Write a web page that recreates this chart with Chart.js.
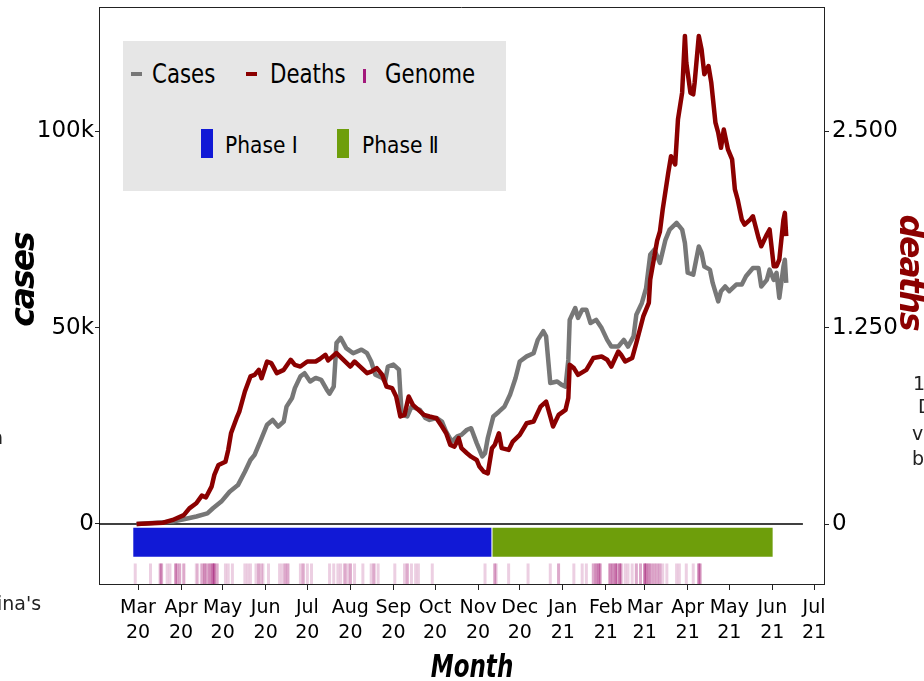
<!DOCTYPE html>
<html>
<head>
<meta charset="utf-8">
<title>Cases, deaths and genomes</title>
<script src="https://cdn.jsdelivr.net/npm/chart.js@4.4.1/dist/chart.umd.min.js"></script>
<style>
  html, body { margin: 0; padding: 0; background: #fff; }
  body { width: 924px; height: 681px; overflow: hidden; position: relative; font-family: 'DejaVu Sans', sans-serif; }
  canvas { position: absolute; left: 0; top: 0; }
  .legend-box { position: absolute; left: 123px; top: 41px; width: 383px; height: 150px; background: #e6e6e6; }
  .sw { position: absolute; }
  .lt { position: absolute; white-space: nowrap; transform-origin: 0 0; color: #000; line-height: 1; }
  .row1 { font-size: 27px; transform: scaleX(0.79); top: 60px; }
  .row2 { font-size: 23px; transform: scaleX(0.88); top: 134px; }
  .ttl { position: absolute; font-weight: bold; font-style: italic; white-space: nowrap; line-height: 1; }
  .stray { position: absolute; font-size: 19px; color: #222; white-space: nowrap; line-height: 1; }
</style>
</head>
<body>
<canvas id="mainChart" width="924" height="681"></canvas>

<div class="legend-box"></div>
<div class="sw" style="left:131px;top:72px;width:11px;height:4px;background:#777777"></div>
<div class="lt row1" style="left:152px">Cases</div>
<div class="sw" style="left:246px;top:72px;width:11px;height:4px;background:#8b0000"></div>
<div class="lt row1" style="left:270px">Deaths</div>
<div class="sw" style="left:363px;top:69px;width:3px;height:14px;background:#a3197c"></div>
<div class="lt row1" style="left:385px">Genome</div>
<div class="sw" style="left:201px;top:129px;width:12px;height:29px;background:#1119d6"></div>
<div class="lt row2" style="left:225px">Phase Ⅰ</div>
<div class="sw" style="left:337px;top:129px;width:12px;height:29px;background:#6e9e0b"></div>
<div class="lt row2" style="left:362px">Phase Ⅱ</div>

<div class="ttl" style="left:22px;top:280px;font-size:33px;letter-spacing:-2px;transform:translate(-50%,-50%) rotate(-90deg)">cases</div>
<div class="ttl" style="left:911px;top:272px;font-size:33px;letter-spacing:-2px;color:#8b0000;transform:translate(-50%,-50%) rotate(90deg)">deaths</div>
<div class="ttl" style="left:472px;top:650px;font-size:32px;transform:translateX(-50%) scaleX(0.72)">Month</div>

<div class="stray" style="left:-9px;top:428px">n</div>
<div class="stray" style="left:-3px;top:594px">ina's</div>
<div class="stray" style="left:913px;top:374px">1</div>
<div class="stray" style="left:918px;top:397px">D</div>
<div class="stray" style="left:912px;top:424px">va</div>
<div class="stray" style="left:912px;top:449px">b</div>

<script>
// day offsets are counted from 1 March 2020
const monthDays = [0, 31, 61, 92, 122, 153, 184, 214, 245, 275, 306, 337, 365, 396, 426, 457, 487];
const monthLabels = [
  ['Mar', '20'], ['Apr', '20'], ['May', '20'], ['Jun', '20'], ['Jul', '20'], ['Aug', '20'],
  ['Sep', '20'], ['Oct', '20'], ['Nov', '20'], ['Dec', '20'], ['Jan', '21'], ['Feb', '21'],
  ['Mar', '21'], ['Apr', '21'], ['May', '21'], ['Jun', '21'], ['Jul', '21']
];
const caseTicks = [0, 50000, 100000];
const caseTickLabels = ['0', '50k', '100k'];
const deathTicks = [0, 1250, 2500];
const deathTickLabels = ['0', '1.250', '2.500'];

const casesDays = [
  -1, 25, 33, 42, 50, 54, 60, 66, 72, 77,
  81, 84, 88, 93, 97, 101, 105, 107, 111, 113,
  117, 120, 124, 128, 132, 136, 138, 141, 143, 146,
  150, 155, 161, 165, 168, 171, 176, 178, 180, 184,
  188, 189, 190, 194, 197, 203, 207, 210, 215, 219,
  222, 226, 230, 233, 237, 240, 244, 248, 250, 252,
  256, 260, 264, 268, 272, 275, 280, 285, 288, 292,
  294, 297, 302, 305, 308, 310, 311, 315, 317, 320,
  323, 326, 330, 334, 338, 341, 346, 350, 353, 357,
  359, 363, 366, 369, 372, 376, 380, 383, 388, 392,
  394, 396, 400, 404, 406, 408, 412, 414, 418, 420,
  423, 426, 431, 435, 438, 443, 447, 449, 453, 455,
  458, 460, 462, 465, 466, 467
];
const casesValues = [
  0, 600, 1200, 1900, 2700, 4000, 5700, 8200, 9900, 13300,
  16300, 17600, 21000, 25300, 26500, 24800, 26100, 29900, 32100, 34600,
  37600, 38400, 36300, 37200, 36700, 34200, 33200, 35000, 46100, 47400,
  44800, 43500, 44400, 43500, 41400, 38000, 37200, 36300, 40100, 40600,
  39300, 33300, 27800, 27400, 29900, 29100, 27000, 26500, 27000, 26100,
  23500, 21000, 22300, 22700, 24000, 24400, 20600, 17200, 18000, 21900,
  27400, 28600, 29900, 32900, 37200, 41400, 42700, 43500, 46900, 49100,
  47800, 35900, 36300, 35500, 35000, 41800, 52000, 55000, 52500, 54600,
  54600, 51200, 52000, 49900, 46900, 45200, 45200, 46900, 45200, 47800,
  53300, 56300, 60000, 68600, 69900, 66500, 72400, 75000, 76700, 75000,
  71600, 64000, 63500, 70700, 69100, 65600, 64800, 61400, 56700, 59300,
  60500, 59300, 61000, 61000, 63100, 65200, 65200, 60500, 62200, 64800,
  62200, 64000, 57600, 65600, 67300, 61400
];

const deathsDays = [
  -1, 18, 25, 33, 37, 42, 46, 49, 53, 55,
  58, 63, 65, 67, 71, 73, 77, 81, 84, 87,
  89, 93, 96, 100, 105, 110, 113, 117, 122, 128,
  131, 135, 137, 143, 148, 153, 156, 160, 165, 168,
  172, 176, 179, 183, 186, 189, 192, 195, 198, 202,
  206, 210, 215, 219, 222, 225, 228, 231, 233, 237,
  240, 244, 246, 249, 252, 255, 257, 260, 262, 267,
  270, 275, 280, 285, 290, 294, 297, 299, 303, 308,
  310, 311, 314, 317, 323, 328, 334, 338, 341, 346,
  348, 351, 356, 359, 364, 368, 369, 374, 376, 378,
  382, 384, 387, 389, 392, 394, 395, 398, 400, 401,
  404, 406, 408, 411, 413, 416, 418, 420, 422, 425,
  428, 430, 432, 435, 437, 441, 443, 447, 449, 453,
  455, 458, 460, 462, 465, 466, 467
];
const deathsValues = [
  0, 8, 26, 57, 100, 132, 181, 170, 238, 313,
  376, 397, 472, 578, 674, 716, 844, 940, 950, 982,
  929, 1035, 1025, 961, 982, 1046, 1014, 1003, 1035, 1035,
  1051, 1078, 1042, 1089, 1046, 1003, 1035, 1003, 961, 971,
  993, 950, 876, 866, 812, 685, 695, 812, 759, 727,
  695, 685, 674, 621, 578, 504, 493, 547, 483, 451,
  429, 408, 366, 334, 323, 483, 504, 578, 483, 472,
  525, 568, 642, 653, 748, 780, 685, 621, 695, 727,
  802, 1014, 993, 950, 982, 1057, 1067, 1046, 1003, 1099,
  1078, 1035, 1057, 1153, 1322, 1408, 1557, 1805, 1863, 2003,
  2237, 2343, 2290, 2577, 2747, 3109, 2939, 2747, 2737, 2811,
  3109, 3023, 2864, 2917, 2811, 2556, 2492, 2396, 2513, 2386,
  2322, 2131, 2067, 1939, 1907, 1939, 1960, 1823, 1769, 1844,
  1876, 1642, 1642, 1684, 1939, 1982, 1833
];

// sampling dates of sequenced genomes and how many on each day
const genomeDays = [
  -2, 9, 16, 17, 21, 23, 27, 28, 30, 33,
  42, 43, 46, 48, 50, 52, 54, 55, 57, 63,
  65, 68, 77, 79, 81, 85, 87, 89, 90, 94,
  102, 104, 106, 108, 117, 119, 122, 125, 138, 141,
  144, 146, 149, 151, 153, 156, 162, 168, 170, 173,
  185, 192, 194, 197, 200, 202, 212, 250, 257, 258,
  267, 281, 297, 303, 314, 320, 323, 328, 330, 332,
  333, 340, 342, 344, 345, 347, 348, 351, 353, 356,
  359, 362, 365, 366, 368, 370, 372, 374, 376, 378,
  381, 388, 390, 395, 400, 404, 405
];
const genomeCounts = [
  1, 1, 2, 2, 1, 1, 2, 2, 2, 2,
  1, 1, 2, 3, 2, 3, 4, 3, 2, 1,
  1, 1, 1, 1, 1, 1, 2, 1, 1, 1,
  1, 1, 2, 2, 1, 2, 1, 1, 1, 1,
  1, 1, 2, 1, 2, 1, 1, 1, 2, 1,
  1, 1, 2, 1, 1, 1, 1, 1, 2, 1,
  1, 1, 1, 2, 1, 1, 1, 2, 3, 3,
  2, 3, 3, 3, 2, 3, 2, 1, 1, 1,
  2, 2, 3, 3, 3, 2, 2, 2, 2, 1,
  1, 1, 1, 1, 1, 3, 2
];

const phaseNames = ['Phase I', 'Phase II'];
const phaseStart = [-3.4, 255.4];
const phaseEnd = [254.6, 457.2];
const zeroLineSpan = [-28.1, 479];

const PHASE_Y = -4640;
const GENOME_Y = -12740;
const phaseColors = ['#1119d6', '#6e9e0b'];

const genomePoints = [];
genomeDays.forEach((d, i) => {
    for (let k = 0; k < genomeCounts[i]; k++) genomePoints.push({ x: d, y: GENOME_Y });
});

const topBorder = {
    id: 'topBorder',
    afterDraw: (chart) => {
        const {ctx, chartArea} = chart;
        ctx.save();
        ctx.strokeStyle = '#222';
        ctx.lineWidth = 1;
        ctx.beginPath();
        ctx.moveTo(chartArea.left, chartArea.top + 0.5);
        ctx.lineTo(chartArea.right, chartArea.top + 0.5);
        ctx.stroke();
        ctx.restore();
    }
};

// fixed box sizes so the plot area lands where the original sits
function fixBox(size) {
    return (scale) => {
        if (scale.isHorizontal()) scale.height = size;
        else scale.width = size;
        scale.paddingTop = 0;
        scale.paddingBottom = 0;
        scale.paddingLeft = 0;
        scale.paddingRight = 0;
    };
}

const tickFont = { family: 'DejaVu Sans', size: 19, lineHeight: 1.35 };
const yFont = { family: 'DejaVu Sans', size: 23 };

const phaseSets = phaseNames.map((name, i) => ({
    label: name,
    data: [{ x: phaseStart[i], y: PHASE_Y }, { x: phaseEnd[i], y: PHASE_Y }],
    borderColor: phaseColors[i],
    borderWidth: 29,
    borderCapStyle: 'butt',
    pointRadius: 0,
    yAxisID: 'y'
}));

const ctx = document.getElementById('mainChart').getContext('2d');
new Chart(ctx, {
    type: 'line',
    data: {
        datasets: [
            {
                label: 'Deaths',
                data: deathsDays.map((d, i) => ({ x: d, y: deathsValues[i] })),
                borderColor: '#8b0000',
                borderWidth: 4.5,
                borderJoinStyle: 'round',
                pointRadius: 0,
                tension: 0,
                yAxisID: 'y2'
            },
            {
                label: 'Cases',
                data: casesDays.map((d, i) => ({ x: d, y: casesValues[i] })),
                borderColor: '#777777',
                borderWidth: 4.5,
                borderJoinStyle: 'round',
                pointRadius: 0,
                tension: 0,
                yAxisID: 'y'
            },
            {
                label: 'zero',
                data: zeroLineSpan.map(d => ({ x: d, y: 0 })),
                borderColor: '#000',
                borderWidth: 1.5,
                pointRadius: 0,
                yAxisID: 'y'
            },
            ...phaseSets,
            {
                label: 'Genome',
                data: genomePoints,
                showLine: false,
                pointStyle: 'line',
                rotation: 90,
                pointRadius: 10.5,
                pointBorderWidth: 3,
                pointBorderColor: 'rgba(160,16,112,0.2)',
                pointBackgroundColor: 'rgba(160,16,112,0.2)',
                yAxisID: 'y'
            }
        ]
    },
    options: {
        responsive: false,
        animation: false,
        devicePixelRatio: 1,
        layout: { autoPadding: false, padding: { top: 7, left: 0, right: 0, bottom: 0 } },
        plugins: { legend: { display: false }, tooltip: { enabled: false } },
        scales: {
            x: {
                type: 'linear',
                position: 'bottom',
                min: -28.1,
                max: 494.2,
                afterBuildTicks: (scale) => { scale.ticks = monthDays.map(v => ({ value: v })); },
                afterFit: fixBox(97),
                grid: { drawOnChartArea: false, tickLength: 6, tickColor: '#222' },
                border: { color: '#222', width: 1 },
                ticks: {
                    autoSkip: false,
                    maxRotation: 0,
                    padding: 5,
                    color: '#000',
                    font: tickFont,
                    callback: (value, index) => monthLabels[index]
                }
            },
            y: {
                position: 'left',
                min: -15290,
                max: 131700,
                afterBuildTicks: (scale) => { scale.ticks = caseTicks.map(v => ({ value: v })); },
                afterFit: fixBox(99),
                grid: { drawOnChartArea: false, tickLength: 4, tickColor: '#222' },
                border: { color: '#222', width: 1 },
                ticks: {
                    padding: 1,
                    color: '#000',
                    font: yFont,
                    callback: (value, index) => caseTickLabels[index]
                }
            },
            y2: {
                position: 'right',
                min: -382,
                max: 3293,
                afterBuildTicks: (scale) => { scale.ticks = deathTicks.map(v => ({ value: v })); },
                afterFit: fixBox(100),
                grid: { drawOnChartArea: false, tickLength: 5, tickColor: '#222' },
                border: { color: '#222', width: 1 },
                ticks: {
                    padding: 3,
                    color: '#000',
                    font: yFont,
                    callback: (value, index) => deathTickLabels[index]
                }
            }
        }
    },
    plugins: [topBorder]
});
</script>
</body>
</html>
